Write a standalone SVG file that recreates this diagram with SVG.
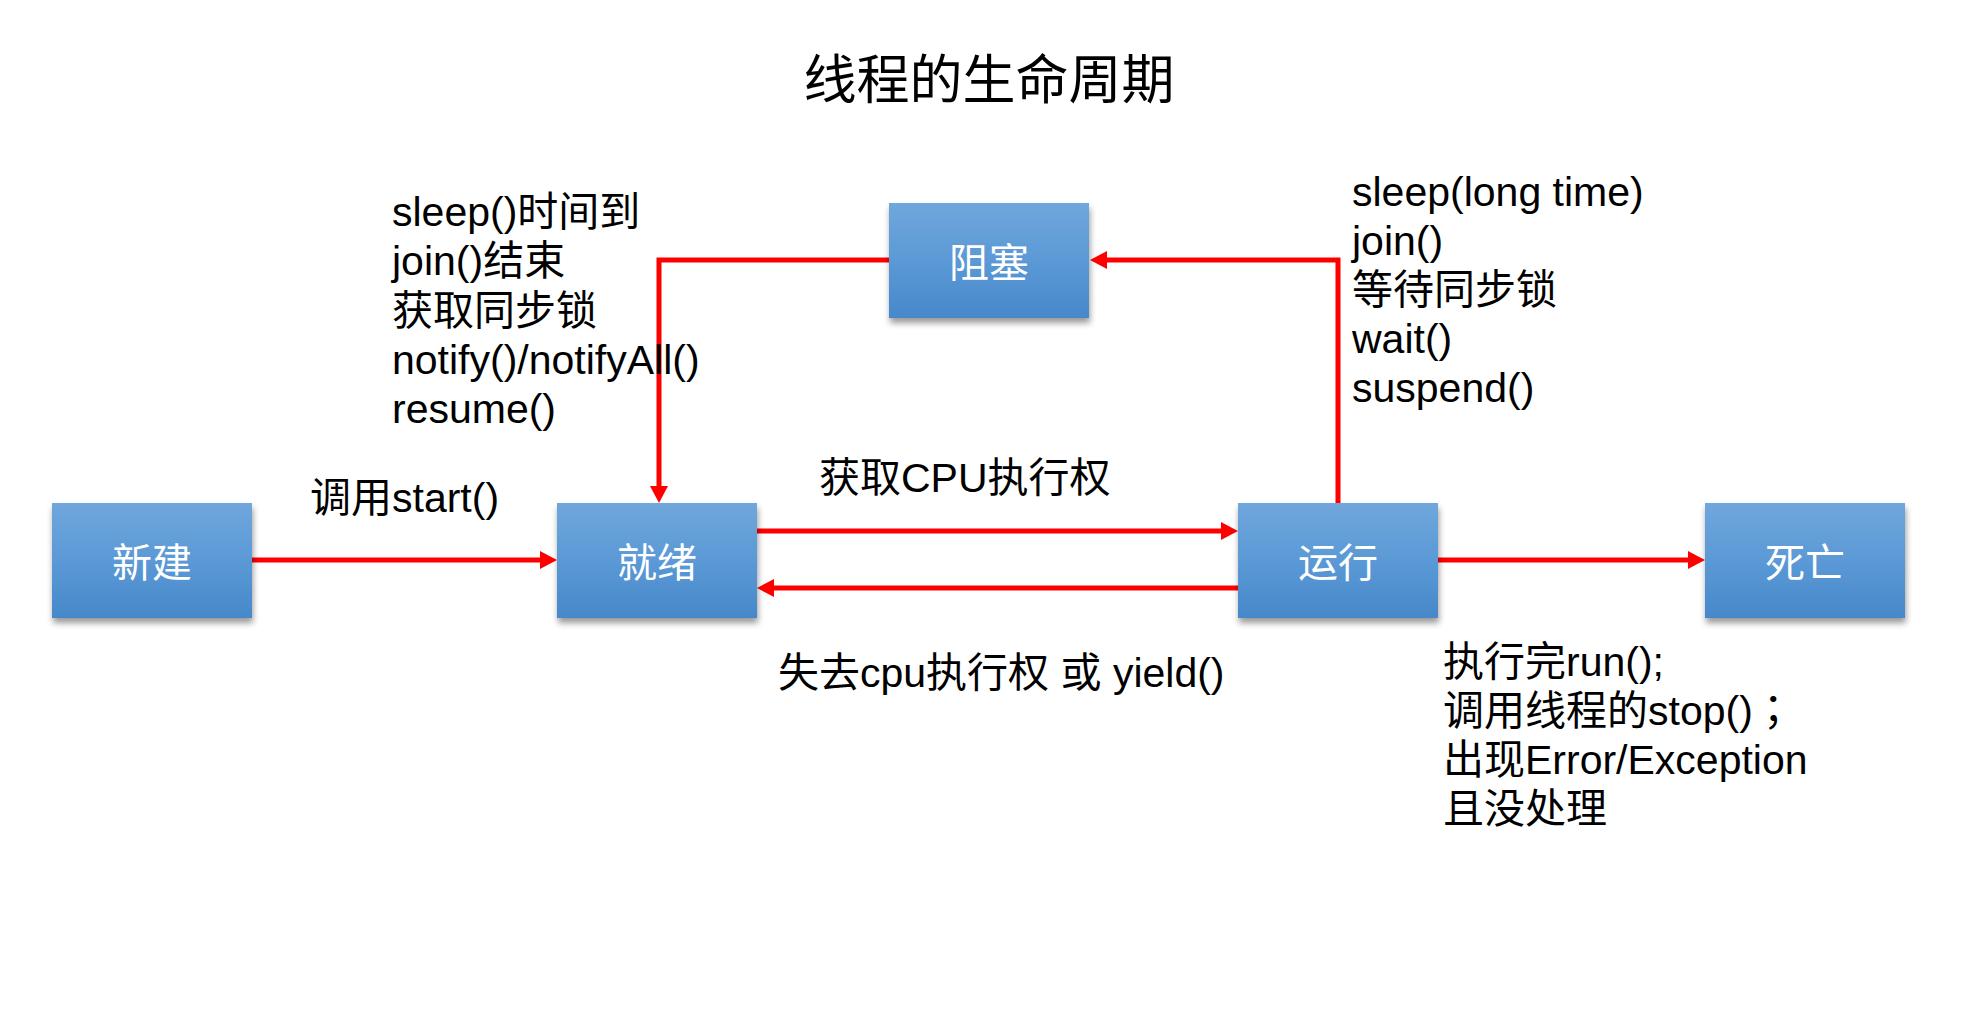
<svg xmlns="http://www.w3.org/2000/svg" width="1968" height="1016" viewBox="0 0 1968 1016">
  <defs>
    <linearGradient id="nodeFill" x1="0" y1="0" x2="0" y2="1">
      <stop offset="0" stop-color="#70a7dc"/>
      <stop offset="0.5" stop-color="#5b99d6"/>
      <stop offset="1" stop-color="#4788ca"/>
    </linearGradient>
    <filter id="shadow" x="-10%" y="-10%" width="125%" height="130%">
      <feDropShadow dx="1" dy="5" stdDeviation="3" flood-color="#000" flood-opacity="0.4"/>
    </filter>
    <marker id="arrow" markerUnits="userSpaceOnUse" viewBox="0 0 17 18" markerWidth="17" markerHeight="18" refX="9" refY="9" orient="auto">
      <path d="M0,0 L17,9 L0,18 z" fill="#ff0000"/>
    </marker>
  </defs>
  <style>
    .node rect { fill: url(#nodeFill); filter: url(#shadow); }
    .node text { fill: #ffffff; font-family: "Noto Sans CJK SC", "Liberation Sans", sans-serif; font-size: 40px; text-anchor: middle; }
    .edge { fill: none; stroke: #ff0000; stroke-width: 5; stroke-linejoin: miter; marker-end: url(#arrow); }
    .label { fill: #000000; font-family: "Liberation Sans", "Noto Sans CJK SC", sans-serif; font-size: 41px; }
    .title { fill: #000000; font-family: "Noto Sans CJK SC", sans-serif; font-size: 53px; text-anchor: middle; }
    .cpunct { font-family: "Noto Sans CJK TC", sans-serif; }
  </style>

  <rect width="1968" height="1016" fill="#ffffff"/>

  <text class="title" x="989" y="99">线程的生命周期</text>

  <!-- state transitions -->
  <g id="connectors">
    <path class="edge" d="M252,560 H549"/>
    <path class="edge" d="M757,531 H1230"/>
    <path class="edge" d="M1238,588 H765"/>
    <path class="edge" d="M1438,560 H1697"/>
    <path class="edge" d="M1338,503 V260 H1098"/>
    <path class="edge" d="M889,260 H659 V495"/>
  </g>

  <!-- thread states -->
  <g id="node-new" class="node">
    <rect x="52" y="503" width="200" height="115"/>
    <text x="152" y="577">新建</text>
  </g>
  <g id="node-ready" class="node">
    <rect x="557" y="503" width="200" height="115"/>
    <text x="657" y="577">就绪</text>
  </g>
  <g id="node-blocked" class="node">
    <rect x="889" y="203" width="200" height="115"/>
    <text x="989" y="277">阻塞</text>
  </g>
  <g id="node-running" class="node">
    <rect x="1238" y="503" width="200" height="115"/>
    <text x="1338" y="577">运行</text>
  </g>
  <g id="node-dead" class="node">
    <rect x="1705" y="503" width="200" height="115"/>
    <text x="1805" y="577">死亡</text>
  </g>

  <!-- transition labels -->
  <g id="labels">
    <text class="label" x="310" y="512">调用start()</text>
    <text class="label" x="819" y="492">获取CPU执行权</text>
    <text class="label" x="778" y="687">失去cpu执行权 或 yield()</text>

    <text class="label" x="392" y="226">sleep()时间到</text>
    <text class="label" x="392" y="275">join()结束</text>
    <text class="label" x="392" y="325">获取同步锁</text>
    <text class="label" x="392" y="374">notify()/notifyAll()</text>
    <text class="label" x="392" y="423">resume()</text>

    <text class="label" x="1352" y="206">sleep(long time)</text>
    <text class="label" x="1352" y="255">join()</text>
    <text class="label" x="1352" y="304">等待同步锁</text>
    <text class="label" x="1352" y="353">wait()</text>
    <text class="label" x="1352" y="402">suspend()</text>

    <text class="label" x="1443" y="676">执行完run();</text>
    <text class="label" x="1443" y="725">调用线程的stop()<tspan class="cpunct">；</tspan></text>
    <text class="label" x="1443" y="774">出现Error/Exception</text>
    <text class="label" x="1443" y="823">且没处理</text>
  </g>
</svg>
